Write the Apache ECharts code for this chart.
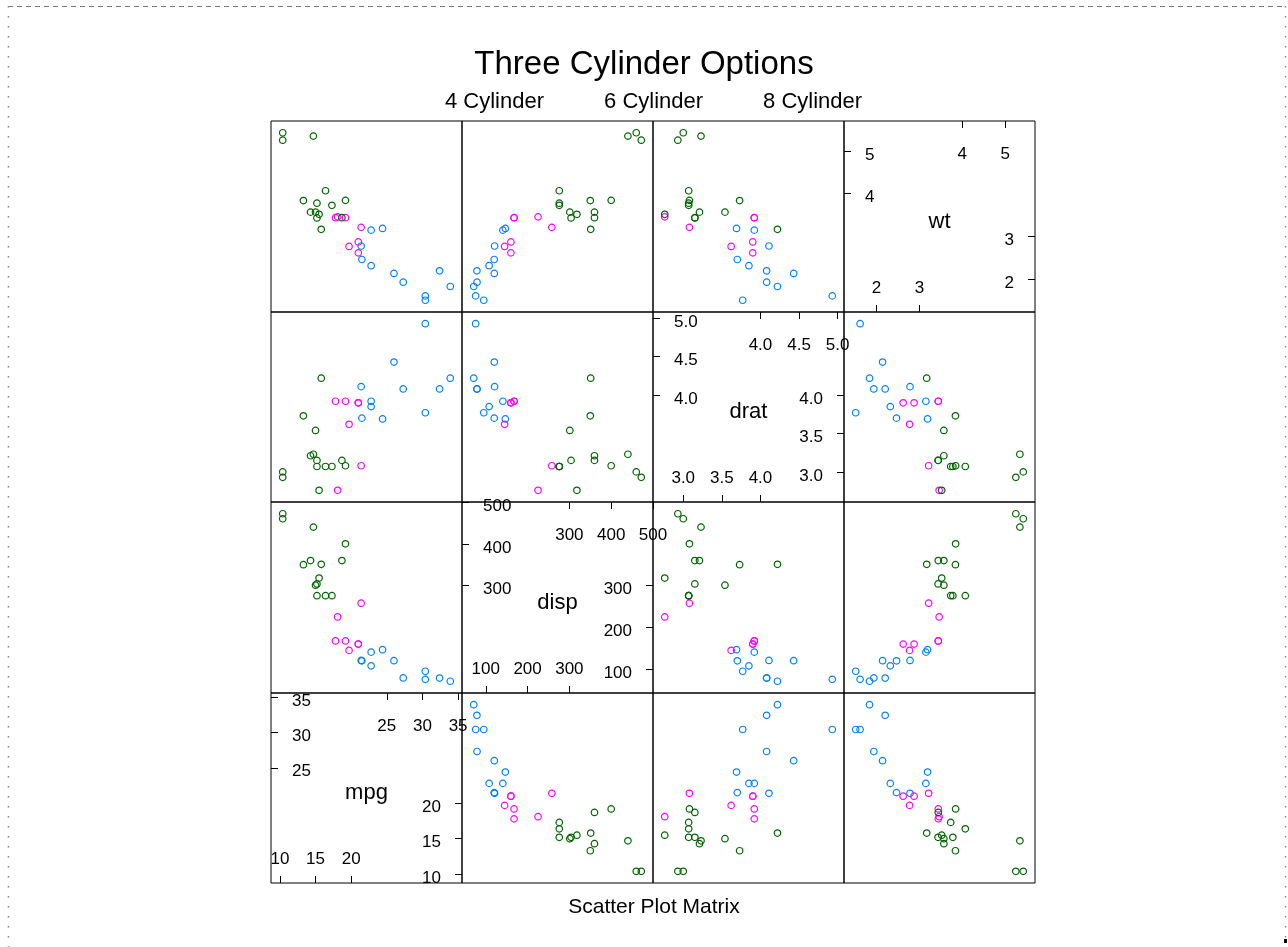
<!DOCTYPE html>
<html>
<head>
<meta charset="utf-8">
<script src="https://cdn.jsdelivr.net/npm/echarts@6/dist/echarts.min.js"></script>
<style>
html,body{margin:0;padding:0;background:#fff;}
#chart{width:1288px;height:947px;}
</style>
</head>
<body>
<div id="chart"></div>
<script>
// mtcars data (matches dataset)
const mpg  = [21.0,21.0,22.8,21.4,18.7,18.1,14.3,24.4,22.8,19.2,17.8,16.4,17.3,15.2,10.4,10.4,14.7,32.4,30.4,33.9,21.5,15.5,15.2,13.3,19.2,27.3,26.0,30.4,15.8,19.7,15.0,21.4];
const cyl  = [6,6,4,6,8,6,8,4,4,6,6,8,8,8,8,8,8,4,4,4,4,8,8,8,8,4,4,4,8,6,8,4];
const disp = [160,160,108,258,360,225,360,146.7,140.8,167.6,167.6,275.8,275.8,275.8,472,460,440,78.7,75.7,71.1,120.1,318,304,350,400,79,120.3,95.1,351,145,301,121];
const drat = [3.90,3.90,3.85,3.08,3.15,2.76,3.21,3.69,3.92,3.92,3.92,3.07,3.07,3.07,2.93,3.00,3.23,4.08,4.93,4.22,3.70,2.76,3.15,3.73,3.08,4.08,4.43,3.77,4.22,3.62,3.54,4.11];
const wt   = [2.620,2.875,2.320,3.215,3.440,3.460,3.570,3.190,3.150,3.440,3.440,4.070,3.730,3.780,5.250,5.424,5.345,2.200,1.615,1.835,2.465,3.520,3.435,3.840,3.845,1.935,2.140,1.513,3.170,2.770,3.570,2.780];

const groupLevels = [4, 6, 8];
const groupNames = ['4 Cylinder', '6 Cylinder', '8 Cylinder'];
const groupColors = ['#0080ff', '#ff00ff', '#006400'];

const varNames = ['mpg', 'disp', 'drat', 'wt'];
const varData = [mpg, disp, drat, wt];

// tick values for diagonal panels: lower half (bottom/right), upper half (top/left)
const mpgTicksLow = [10, 15, 20],  mpgTicksHigh = [25, 30, 35];
const dispTicksLow = [100, 200, 300], dispTicksHigh = [300, 400, 500];
const dratTicksLow = [3.0, 3.5, 4.0], dratTicksHigh = [4.0, 4.5, 5.0];
const wtTicksLow = [2, 3], wtTicksHigh = [4, 5];
const ticksLow = [mpgTicksLow, dispTicksLow, dratTicksLow, wtTicksLow];
const ticksHigh = [mpgTicksHigh, dispTicksHigh, dratTicksHigh, wtTicksHigh];
const tickDecimals = [0, 0, 1, 0];

const titleText = 'Three Cylinder Options';
const xlabText = 'Scatter Plot Matrix';

// lattice-style limits: data range extended by 7%
function lim(arr) {
  const lo = Math.min(...arr), hi = Math.max(...arr), d = hi - lo;
  return [lo - 0.07 * d, hi + 0.07 * d];
}
const limits = varData.map(lim);

const FONT = "'Liberation Sans', Arial, Helvetica, sans-serif";
const colLeft = [271, 462, 653, 844];
const colWidth = [191, 191, 191, 191];
const rowTop = [121, 312, 502, 693];
const rowHeight = [191, 190, 191, 190];

const grids = [], xAxes = [], yAxes = [], series = [], graphics = [];

function hiddenAxis(gi, v) {
  return {
    type: 'value', gridIndex: gi, min: limits[v][0], max: limits[v][1],
    axisLine: {show: false}, axisTick: {show: false}, axisLabel: {show: false}, splitLine: {show: false}
  };
}
function labelAxis(gi, v, position, vals, isX) {
  const lbl = {
    show: true, inside: true, customValues: vals, fontSize: 17, color: '#000', fontFamily: FONT,
    formatter: (val) => Number(val).toFixed(tickDecimals[v])
  };
  if (isX) {
    lbl.margin = position === 'bottom' ? 15 : 25;
  } else {
    lbl.margin = 21;
    lbl.verticalAlign = 'top';
    lbl.lineHeight = 8;
  }
  return {
    type: 'value', gridIndex: gi, min: limits[v][0], max: limits[v][1], position: position,
    axisLine: {show: false},
    axisTick: {show: true, inside: true, length: 7, customValues: vals, lineStyle: {color: '#000', width: 1}},
    axisLabel: lbl,
    splitLine: {show: false}
  };
}

for (let r = 0; r < 4; r++) {
  for (let c = 0; c < 4; c++) {
    const gi = grids.length;
    const yv = 3 - r, xv = c;
    grids.push({
      left: colLeft[c], top: rowTop[r], width: colWidth[c], height: rowHeight[r],
      show: true, borderColor: '#000', borderWidth: 1, backgroundColor: 'transparent'
    });
    if (yv === xv) {
      xAxes.push(labelAxis(gi, xv, 'bottom', ticksLow[xv], true));
      xAxes.push(labelAxis(gi, xv, 'top', ticksHigh[xv], true));
      yAxes.push(labelAxis(gi, yv, 'left', ticksHigh[yv], false));
      yAxes.push(labelAxis(gi, yv, 'right', ticksLow[yv], false));
      graphics.push({
        type: 'text',
        x: colLeft[c] + colWidth[c] / 2, y: rowTop[r] + rowHeight[r] / 2 + 5,
        style: {text: varNames[xv], font: '22px ' + FONT, fill: '#000', textAlign: 'center', textVerticalAlign: 'middle'}
      });
    } else {
      const xi = xAxes.length, yi = yAxes.length;
      xAxes.push(hiddenAxis(gi, xv));
      yAxes.push(hiddenAxis(gi, yv));
      groupLevels.forEach((lev, k) => {
        const pts = [];
        for (let i = 0; i < cyl.length; i++) {
          if (cyl[i] === lev) pts.push([varData[xv][i], varData[yv][i]]);
        }
        series.push({
          type: 'scatter', name: groupNames[k], xAxisIndex: xi, yAxisIndex: yi,
          data: pts, symbol: 'circle', symbolSize: 6.5, silent: true,
          itemStyle: {color: 'rgba(0,0,0,0)', borderColor: groupColors[k], borderWidth: 1.2, opacity: 1},
          emphasis: {disabled: true}
        });
      });
    }
  }
}

// outer page border (dashed/dotted)
graphics.push({type: 'line', shape: {x1: 8, y1: 6.5, x2: 1286, y2: 6.5}, style: {stroke: '#777', lineWidth: 1, lineDash: [5, 4]}});
graphics.push({type: 'line', shape: {x1: 8.5, y1: 6, x2: 8.5, y2: 947}, style: {stroke: '#888', lineWidth: 1.5, lineDash: [1.5, 8.5]}});
graphics.push({type: 'line', shape: {x1: 1285.5, y1: 6, x2: 1285.5, y2: 940}, style: {stroke: '#888', lineWidth: 1.5, lineDash: [1.5, 8.5]}});
graphics.push({type: 'rect', shape: {x: 1284, y: 939, width: 3, height: 4}, style: {fill: '#000'}});
// x label
graphics.push({
  type: 'text', x: 654, y: 907,
  style: {text: xlabText, font: '21px ' + FONT, fill: '#000', textAlign: 'center', textVerticalAlign: 'middle'}
});

const chart = echarts.init(document.getElementById('chart'), null, {renderer: 'canvas'});
chart.setOption({
  animation: false,
  backgroundColor: '#fff',
  title: {
    text: titleText, left: 'center', top: 43,
    textStyle: {fontSize: 33, fontWeight: 'normal', color: '#000', fontFamily: FONT}
  },
  legend: {
    data: groupNames, top: 86, left: 435, icon: 'none', itemWidth: 0, itemHeight: 0, itemGap: 55,
    selectedMode: false,
    textStyle: {fontSize: 22, color: '#000', fontFamily: FONT}
  },
  grid: grids,
  xAxis: xAxes,
  yAxis: yAxes,
  series: series,
  graphic: graphics
});
</script>
</body>
</html>
